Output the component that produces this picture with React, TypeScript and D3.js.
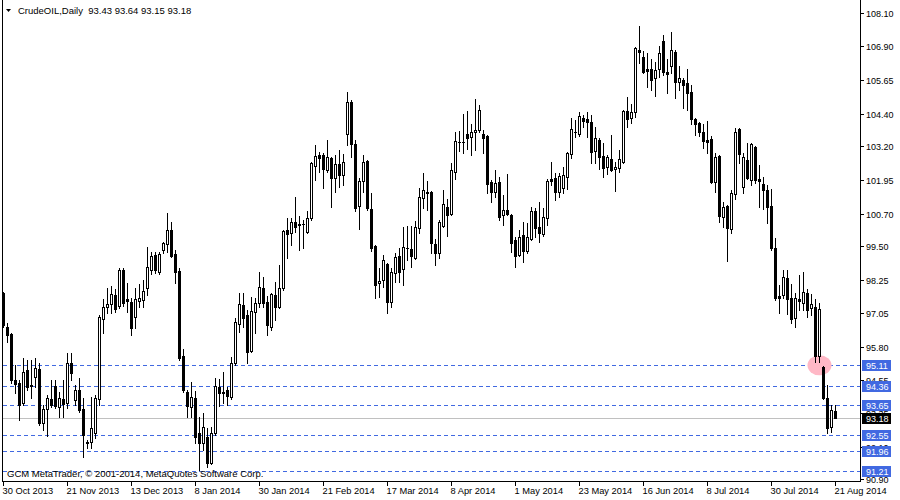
import React from "react";
import * as d3 from "d3";

// OHLC values (CrudeOIL, Daily, 30 Oct 2013 – 21 Aug 2014)
const openV = [
  97.78, 96.52, 96.27, 94.57, 94.46, 93.72, 94.94, 94.38, 94.68, 94.97,
  92.98, 93.50, 93.87, 94.35, 93.57, 93.87, 93.72, 95.20, 93.83, 94.20,
  93.50, 92.28, 92.28, 92.61, 93.87, 96.82, 97.26, 97.37, 97.70, 97.30,
  98.63, 97.56, 97.45, 96.89, 97.48, 97.52, 97.96, 98.63, 99.18, 98.55,
  99.37, 99.59, 100.10, 99.22, 98.59, 95.45, 94.13, 93.57, 93.90, 92.61,
  92.24, 92.47, 91.51, 92.61, 94.31, 94.13, 94.20, 93.94, 95.20, 96.63,
  97.34, 96.97, 95.64, 97.08, 97.41, 97.96, 97.45, 96.52, 97.70, 97.26,
  97.96, 100.10, 99.99, 100.40, 100.32, 100.32, 100.03, 100.55, 102.46, 102.87,
  102.87, 102.32, 102.76, 102.02, 102.54, 102.13, 103.65, 104.83, 103.28, 100.99,
  101.91, 102.65, 100.88, 99.51, 98.15, 98.26, 98.85, 97.45, 98.52, 99.14,
  98.66, 99.44, 99.40, 99.07, 100.18, 101.28, 101.51, 101.51, 99.59, 99.25,
  100.25, 100.95, 100.69, 102.24, 103.35, 103.35, 103.65, 103.54, 103.72, 103.79,
  103.65, 103.57, 101.87, 101.51, 101.87, 100.66, 100.84, 100.66, 99.73, 99.18,
  99.92, 99.33, 99.77, 100.80, 100.21, 99.96, 100.55, 101.99, 102.02, 101.51,
  101.65, 102.06, 102.91, 103.72, 103.65, 104.24, 104.20, 104.09, 103.02, 103.42,
  102.83, 102.43, 102.72, 102.35, 102.39, 102.61, 104.49, 104.24, 104.46, 106.75,
  106.49, 106.04, 106.04, 105.71, 106.04, 107.08, 105.93, 106.15, 106.67, 105.56,
  105.64, 105.53, 105.19, 104.20, 104.05, 103.72, 103.42, 103.46, 101.87, 102.83,
  100.58, 100.99, 100.14, 101.43, 103.83, 101.69, 102.69, 101.95, 103.17, 101.99,
  101.80, 101.58, 100.99, 99.44, 97.67, 97.70, 98.33, 97.59, 96.86, 97.56,
  97.41, 97.78, 97.23, 97.26, 95.45, 95.05, 93.90, 92.83, 93.43,
];
const highV = [
  97.82, 96.67, 96.30, 95.12, 94.57, 95.38, 95.31, 95.31, 95.38, 95.20,
  93.65, 94.01, 94.57, 94.57, 94.13, 94.57, 95.56, 95.56, 94.38, 94.64,
  93.90, 92.35, 93.94, 94.01, 96.97, 97.56, 97.96, 98.04, 97.93, 98.70,
  98.70, 98.15, 97.59, 97.96, 98.11, 98.26, 99.48, 99.29, 99.29, 99.29,
  99.66, 100.73, 100.40, 99.37, 98.70, 95.71, 94.20, 94.49, 94.16, 93.20,
  93.35, 92.80, 92.83, 94.64, 94.61, 94.86, 94.31, 95.42, 96.86, 97.78,
  97.78, 97.15, 97.63, 97.59, 98.55, 98.37, 97.67, 97.78, 98.18, 98.81,
  100.10, 100.55, 100.55, 101.32, 100.62, 100.47, 100.80, 102.61, 103.24, 102.98,
  102.94, 103.42, 102.80, 102.87, 103.06, 102.91, 105.19, 104.90, 103.42, 102.02,
  102.87, 102.69, 101.47, 99.55, 98.70, 99.18, 98.89, 98.70, 99.25, 99.44,
  100.21, 100.25, 100.25, 100.44, 101.65, 102.21, 101.91, 101.55, 99.77, 100.47,
  101.58, 101.25, 102.58, 103.72, 103.76, 104.38, 104.49, 104.01, 104.94, 104.72,
  103.79, 103.61, 101.95, 102.32, 102.06, 101.39, 102.17, 100.69, 99.85, 100.10,
  100.40, 100.36, 100.95, 100.92, 101.14, 100.92, 101.99, 102.61, 102.21, 102.21,
  102.43, 102.98, 104.24, 104.16, 104.46, 104.35, 104.46, 104.35, 103.90, 103.50,
  103.31, 102.87, 103.61, 102.61, 103.06, 104.53, 105.01, 104.75, 106.86, 107.63,
  106.71, 106.63, 106.41, 106.30, 106.89, 107.30, 106.41, 107.41, 106.75, 106.15,
  105.71, 106.04, 105.45, 104.24, 104.09, 104.01, 104.13, 103.57, 102.94, 102.87,
  101.14, 101.03, 101.58, 103.87, 103.87, 102.94, 103.31, 103.31, 103.20, 102.50,
  102.06, 101.76, 101.62, 99.81, 98.07, 98.63, 98.63, 98.11, 97.78, 98.44,
  98.55, 97.93, 97.74, 97.56, 97.41, 95.09, 94.38, 93.65, 93.64,
];
const lowV = [
  96.52, 95.97, 94.46, 94.09, 93.09, 93.65, 94.20, 93.90, 94.31, 92.91,
  92.72, 92.50, 93.57, 93.53, 93.20, 93.20, 93.53, 94.57, 93.65, 93.39,
  91.73, 92.06, 92.06, 92.43, 93.65, 96.30, 97.04, 97.04, 97.08, 97.23,
  97.30, 97.08, 96.23, 96.49, 97.26, 97.26, 97.70, 98.48, 98.52, 98.48,
  99.25, 99.29, 99.11, 98.15, 95.31, 94.13, 93.20, 93.20, 92.24, 91.25,
  91.99, 91.36, 91.47, 92.54, 93.61, 93.72, 93.65, 93.87, 95.12, 96.34,
  96.52, 95.20, 95.60, 96.30, 97.26, 97.26, 96.23, 96.41, 96.78, 97.23,
  97.89, 99.07, 99.55, 100.03, 99.37, 99.44, 99.99, 100.47, 101.95, 102.24,
  101.65, 102.24, 100.95, 101.51, 101.69, 101.76, 103.24, 102.80, 100.80, 100.14,
  101.51, 100.84, 99.33, 97.59, 97.63, 98.00, 97.04, 97.26, 98.18, 98.18,
  98.07, 99.00, 98.74, 99.05, 99.99, 100.92, 100.84, 99.25, 98.81, 99.07,
  100.21, 99.88, 100.66, 101.99, 103.02, 102.94, 103.09, 102.87, 103.06, 103.72,
  102.94, 101.47, 101.14, 101.32, 100.47, 100.29, 100.66, 99.29, 98.74, 99.14,
  98.92, 99.25, 99.73, 99.85, 99.66, 99.88, 100.29, 101.76, 101.21, 101.32,
  101.47, 101.62, 102.76, 103.54, 103.57, 103.90, 103.54, 102.58, 102.58, 102.35,
  102.06, 102.17, 102.28, 101.54, 102.24, 102.58, 103.90, 104.05, 104.27, 106.27,
  105.90, 105.38, 105.27, 105.05, 105.75, 105.82, 105.16, 105.90, 104.97, 105.27,
  104.61, 104.53, 104.01, 103.61, 103.57, 103.13, 102.94, 101.84, 101.51, 100.40,
  100.21, 98.96, 99.99, 101.25, 102.58, 101.47, 101.99, 101.76, 101.84, 100.95,
  100.88, 100.36, 99.37, 97.52, 97.04, 97.59, 97.00, 96.67, 96.52, 97.15,
  97.15, 96.89, 96.97, 95.23, 95.23, 93.87, 92.61, 92.65, 93.15,
];
const closeV = [
  96.60, 96.23, 94.57, 94.42, 93.65, 94.86, 94.31, 94.35, 95.01, 92.98,
  93.50, 93.90, 93.65, 93.61, 93.90, 93.68, 95.20, 94.83, 94.20, 93.46,
  92.54, 92.24, 92.80, 93.90, 96.89, 97.26, 97.37, 97.74, 97.19, 98.63,
  97.41, 97.48, 96.49, 97.56, 97.59, 97.85, 98.74, 99.14, 98.63, 99.22,
  99.62, 100.10, 99.14, 98.55, 95.38, 94.20, 93.61, 93.94, 92.47, 92.24,
  92.83, 91.51, 92.61, 94.35, 94.09, 94.09, 93.98, 95.20, 96.71, 97.37,
  96.86, 95.60, 97.11, 97.41, 98.00, 97.41, 96.60, 97.74, 97.26, 97.96,
  100.07, 99.96, 100.40, 100.21, 100.29, 100.33, 100.55, 102.58, 102.83, 102.76,
  102.35, 102.80, 102.02, 102.54, 102.13, 102.61, 104.83, 103.28, 100.92, 101.91,
  102.61, 100.92, 99.44, 98.07, 98.22, 99.00, 97.45, 98.55, 99.11, 98.55,
  99.48, 99.45, 99.14, 100.21, 101.32, 101.58, 101.47, 99.62, 99.25, 100.40,
  101.06, 100.66, 102.32, 103.39, 103.36, 103.34, 103.50, 103.72, 103.79, 104.53,
  103.50, 101.80, 101.51, 101.84, 100.58, 100.84, 100.69, 99.62, 99.14, 99.85,
  99.33, 99.85, 100.80, 100.18, 99.99, 100.58, 101.91, 101.91, 101.51, 102.10,
  102.13, 102.94, 103.83, 103.73, 104.31, 104.13, 104.09, 102.98, 103.50, 102.80,
  102.39, 102.80, 102.32, 102.43, 102.72, 104.49, 104.20, 104.46, 106.82, 106.67,
  105.93, 105.97, 105.64, 106.01, 106.63, 105.93, 105.86, 106.75, 105.56, 105.71,
  105.45, 105.16, 104.20, 104.01, 103.72, 103.39, 103.35, 101.87, 102.80, 100.62,
  100.95, 100.18, 101.47, 103.72, 102.91, 102.80, 102.02, 103.28, 101.95, 101.91,
  101.58, 100.95, 99.44, 97.59, 97.59, 98.37, 97.56, 96.82, 97.59, 97.48,
  97.82, 97.15, 97.37, 95.45, 97.19, 93.90, 92.80, 93.46, 93.18,
];

const dateTickBars = [0, 16, 32, 48, 64, 80, 96, 112, 128, 144, 160, 176, 192, 208];
const dateTickLabels = [
  "30 Oct 2013", "21 Nov 2013", "13 Dec 2013", "8 Jan 2014", "30 Jan 2014",
  "21 Feb 2014", "17 Mar 2014", "8 Apr 2014", "1 May 2014", "23 May 2014",
  "16 Jun 2014", "8 Jul 2014", "30 Jul 2014", "21 Aug 2014",
];
const priceTicks = [
  108.10, 106.90, 105.65, 104.40, 103.20, 101.95, 100.70, 99.50, 98.25,
  97.05, 95.80, 94.55, 93.35, 92.10, 90.90,
];
const levelLines = [95.11, 94.36, 93.65, 92.55, 91.96, 91.21];
const lastPrice = 93.18;
const highlightBar = 204;
const highlightPrice = 95.11;
const titleText = "CrudeOIL,Daily  93.43 93.64 93.15 93.18";
const copyrightText = "GCM MetaTrader, \u00A9 2001-2014, MetaQuotes Software Corp.";

const FONT = "'Liberation Sans', Arial, sans-serif";
const BLUE = "#4169E1";

export default function App() {
  const n = openV.length;
  const x = d3.scaleLinear().domain([0, n - 1]).range([3.5, 3.5 + 4 * (n - 1)]);
  const y = d3.scaleLinear().domain([90.9, 108.1]).range([479.4, 13.3]);
  const plotLeft = 2.5;
  const plotRight = 860.5;
  const plotBottom = 481.5;
  const r = (v: number) => Math.round(y(v));

  const candles = d3.range(n).map((i) => {
    const o = openV[i], h = highV[i], l = lowV[i], c = closeV[i];
    const xc = x(i);
    const top = r(Math.max(o, c));
    const bot = r(Math.min(o, c));
    const bull = c > o;
    const wick = (
      <line key={"w" + i} x1={xc} x2={xc} y1={r(h)} y2={r(l) + 1} stroke="#000" strokeWidth={1} />
    );
    let body;
    if (bot - top < 2) {
      body = <rect key={"b" + i} x={xc - 1.5} y={top} width={3} height={Math.max(1, bot - top + 1)} fill="#000" />;
    } else if (bull) {
      body = (
        <rect key={"b" + i} x={xc - 1} y={top + 0.5} width={2} height={bot - top} fill="#fff" stroke="#000" strokeWidth={1} />
      );
    } else {
      body = <rect key={"b" + i} x={xc - 1.5} y={top} width={3} height={bot - top + 1} fill="#000" />;
    }
    return <g key={i}>{wick}{body}</g>;
  });

  return (
    <svg
      width={900}
      height={500}
      style={{ position: "absolute", left: 0, top: 0, background: "#fff" }}
      fontFamily={FONT}
    >
      <rect x={0} y={0} width={900} height={500} fill="#fff" />
      {/* level lines */}
      {levelLines.map((v) => (
        <line
          key={"lv" + v}
          x1={plotLeft}
          x2={plotRight}
          y1={r(v) + 0.5}
          y2={r(v) + 0.5}
          stroke={BLUE}
          strokeWidth={1}
          strokeDasharray="4,3"
          shapeRendering="crispEdges"
        />
      ))}
      <line x1={plotLeft} x2={plotRight} y1={r(lastPrice) + 0.5} y2={r(lastPrice) + 0.5} stroke="#C0C0C0" strokeWidth={1} shapeRendering="crispEdges" />
      {/* highlight */}
      <ellipse cx={x(highlightBar)} cy={y(highlightPrice)} rx={12} ry={10} fill="#FFB8C6" />
      {/* candles */}
      <g shapeRendering="crispEdges">{candles}</g>
      {/* frame */}
      <g shapeRendering="crispEdges" stroke="#000" strokeWidth={1}>
        <line x1={plotLeft} x2={plotLeft} y1={0} y2={plotBottom + 0.5} />
        <line x1={plotRight} x2={plotRight} y1={0} y2={plotBottom + 0.5} />
        <line x1={plotLeft} x2={plotRight} y1={plotBottom} y2={plotBottom} />
        {priceTicks.map((v) => (
          <line key={"pt" + v} x1={plotRight} x2={plotRight + 3.5} y1={r(v) + 0.5} y2={r(v) + 0.5} />
        ))}
        {dateTickBars.map((b) => (
          <line key={"dt" + b} x1={x(b)} x2={x(b)} y1={plotBottom} y2={plotBottom + 4} />
        ))}
      </g>
      {/* title */}
      <path d="M6,9 L11,9 L8.5,12 Z" fill="#000" />
      <text x={18} y={14} fontSize={9.5} fill="#000" style={{ whiteSpace: "pre" }}>
        {titleText}
      </text>
      <text x={7} y={477} fontSize={9.5} fill="#000">
        {copyrightText}
      </text>
      {/* date labels */}
      {dateTickBars.map((b, k) => (
        <text key={"dl" + b} x={x(b) - 1} y={494} fontSize={9.3} fill="#000">
          {dateTickLabels[k]}
        </text>
      ))}
      {/* price labels */}
      {priceTicks.map((v) => (
        <text key={"pl" + v} x={866} y={r(v) + 3.5} fontSize={9} fill="#000">
          {v.toFixed(2)}
        </text>
      ))}
      {/* level boxes */}
      {levelLines.map((v) => (
        <g key={"lb" + v}>
          <rect x={862} y={r(v) - 5} width={29} height={11} fill={BLUE} shapeRendering="crispEdges" />
          <text x={866} y={r(v) + 3.5} fontSize={9} fill="#fff">
            {v.toFixed(2)}
          </text>
        </g>
      ))}
      <rect x={862} y={r(lastPrice) - 5} width={29} height={11} fill="#000" shapeRendering="crispEdges" />
      <text x={866} y={r(lastPrice) + 3.5} fontSize={9} fill="#fff">
        {lastPrice.toFixed(2)}
      </text>
    </svg>
  );
}
